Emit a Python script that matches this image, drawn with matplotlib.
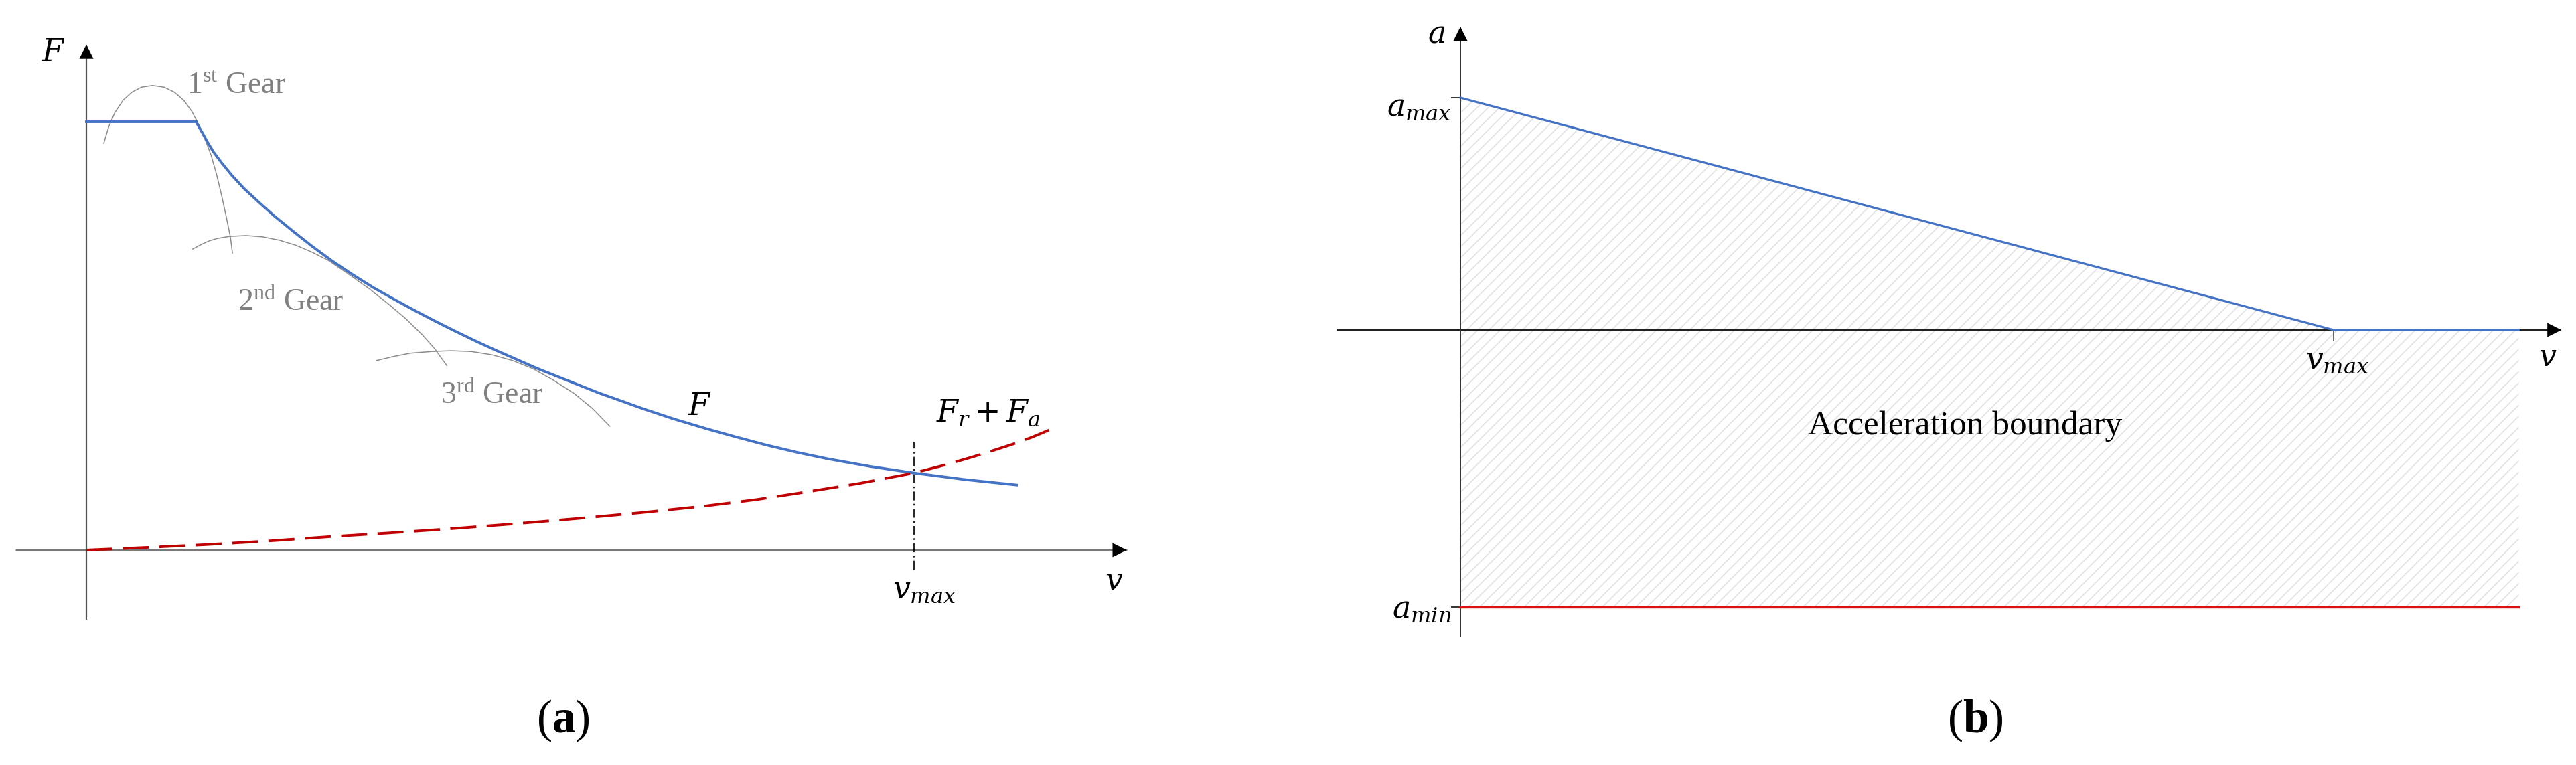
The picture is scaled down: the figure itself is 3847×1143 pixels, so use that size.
import matplotlib.pyplot as plt
import numpy as np

plt.rcParams['font.family'] = ['Liberation Serif', 'DejaVu Serif']
plt.rcParams['mathtext.fontset'] = 'custom'
plt.rcParams['mathtext.rm'] = 'DejaVu Serif'
plt.rcParams['mathtext.sf'] = 'Liberation Serif'
plt.rcParams['mathtext.it'] = 'DejaVu Serif:italic'
plt.rcParams['mathtext.bf'] = 'Liberation Serif:bold'
plt.rcParams['hatch.linewidth'] = 1.3
plt.rcParams['hatch.color'] = '#e3e3e3'

# ---- (a) traction force diagram, v scaled so v_max = 1, F scaled so F_max = 1
v_flat = [0.0, 0.1324]
F_flat = [1.0, 1.0]

v_trac = [0.1324, 0.1384, 0.1458, 0.1533, 0.1632, 0.1756, 0.1905, 0.2078,
          0.2276, 0.2499, 0.2722, 0.2969, 0.3217, 0.3465, 0.3713, 0.3960,
          0.4208, 0.4456, 0.4703, 0.4951, 0.5199, 0.5447, 0.5694, 0.5942,
          0.6190, 0.6438, 0.6725, 0.710, 0.748, 0.785, 0.822, 0.859, 0.896,
          0.948, 1.0, 1.062, 1.124]
F_trac = [1.0, 0.980, 0.954, 0.930, 0.9045, 0.875, 0.844, 0.813,
          0.779, 0.744, 0.710, 0.675, 0.643, 0.613, 0.586, 0.560,
          0.535, 0.511, 0.488, 0.466, 0.445, 0.424, 0.405, 0.386,
          0.367, 0.350, 0.330, 0.306, 0.284, 0.264, 0.245, 0.228, 0.213,
          0.195, 0.180, 0.1645, 0.152]

v_res = [0.0, 0.072, 0.143, 0.218, 0.292, 0.366, 0.441, 0.515, 0.589, 0.668,
         0.748, 0.810, 0.871, 0.935, 1.0, 1.036, 1.070, 1.095, 1.119, 1.142, 1.163]
F_res = [0.0, 0.006, 0.0125, 0.021, 0.031, 0.040, 0.050, 0.061, 0.073, 0.087,
         0.103, 0.118, 0.136, 0.156, 0.180, 0.198, 0.217, 0.232, 0.247, 0.263, 0.280]

gear1_v = [0.0210, 0.0269, 0.0344, 0.0443, 0.0552, 0.0666, 0.0799, 0.0938,
           0.1062, 0.1176, 0.1275, 0.1359, 0.1434, 0.1508, 0.1572, 0.1632,
           0.1691, 0.1741, 0.1765]
gear1_F = [0.9495, 0.9878, 1.0212, 1.050, 1.069, 1.0806, 1.0844, 1.0806,
           1.069, 1.050, 1.024, 0.9925, 0.959, 0.921, 0.8777, 0.8298,
           0.7772, 0.7294, 0.6931]

gear2_v = [0.1285, 0.1384, 0.1483, 0.1582, 0.1731, 0.1929, 0.2127, 0.2325,
           0.2524, 0.2722, 0.2920, 0.3168, 0.3415, 0.3663, 0.3861, 0.4059,
           0.4208, 0.4357]
gear2_F = [0.7027, 0.7131, 0.7217, 0.7275, 0.7323, 0.7342, 0.7313, 0.7237,
           0.7122, 0.6959, 0.6767, 0.6441, 0.6105, 0.5723, 0.5398, 0.5025,
           0.4701, 0.4300]

gear3_v = [0.3505, 0.3713, 0.3911, 0.4159, 0.4406, 0.4654, 0.4901, 0.5150,
           0.5397, 0.5645, 0.5892, 0.6115, 0.6324]
gear3_F = [0.4424, 0.4519, 0.4595, 0.4634, 0.4653, 0.4634, 0.4558, 0.4424,
           0.4233, 0.3964, 0.3658, 0.3305, 0.2892]

v_max = 1.0

# ---- (b) acceleration boundary, v scaled so v_max = 1, a scaled so a_max = 1
v_b = [0.0, 1.0, 1.212]
a_upper = [1.0, 0.0, 0.0]
a_max = 1.0
a_min = -1.193

blue = '#4472c4'
red_dash = '#c00000'
red = '#e01010'
gear_col = '#8c8c8c'
gear_txt = '#808080'
MATH = 33

fig = plt.figure(figsize=(38.48, 11.43), dpi=100)


def axis_arrow(ax, start, end, color, lw, head_color='black'):
    ax.plot([start[0], end[0]], [start[1], end[1]], color=color, lw=lw,
            solid_capstyle='butt', zorder=2)
    ax.annotate('', xy=end, xytext=start,
                arrowprops=dict(arrowstyle='-|>', color=head_color, lw=0.01,
                                mutation_scale=38, shrinkA=0, shrinkB=0),
                zorder=3)


# panel (a)
axA = fig.add_axes([0, 0, 0.5, 1])
axA.set_xlim(-0.10437, 1.4523)
axA.set_ylim(-0.5016, 1.284)
axA.axis('off')

axis_arrow(axA, (-0.0858, 0), (1.257, 0), '#7a7a7a', 2.2)
axis_arrow(axA, (0, -0.1625), (0, 1.18), '#555555', 1.6)

for gv, gF in [(gear1_v, gear1_F), (gear2_v, gear2_F), (gear3_v, gear3_F)]:
    axA.plot(gv, gF, color=gear_col, lw=1.1, zorder=3)

axA.plot(v_flat, F_flat, color=blue, lw=2.8, zorder=4)
axA.plot(v_trac, F_trac, color=blue, lw=2.8, zorder=4)
axA.plot(v_res, F_res, color=red_dash, lw=2.8, dashes=(10, 4), zorder=5)
axA.plot([v_max, v_max], [-0.045, 0.252], color='black', lw=1.2,
         linestyle=(0, (8, 3, 1.5, 3)), zorder=3)

axA.text(-0.04, 1.159, r'$F$', fontsize=MATH, ha='center', va='center')
axA.text(0.121, 1.083, r'1$^{\mathsf{st}}$ Gear', fontsize=33, color=gear_txt,
         ha='left', va='center')
axA.text(0.183, 0.578, r'2$^{\mathsf{nd}}$ Gear', fontsize=33, color=gear_txt,
         ha='left', va='center')
axA.text(0.428, 0.361, r'3$^{\mathsf{rd}}$ Gear', fontsize=33, color=gear_txt,
         ha='left', va='center')
axA.text(0.741, 0.333, r'$F$', fontsize=MATH, ha='center', va='center')
axA.text(1.09, 0.319, r'$F_r + F_a$', fontsize=MATH, ha='center', va='center')
axA.text(1.013, -0.094, r'$v_{max}$', fontsize=MATH, ha='center', va='center')
axA.text(1.242, -0.075, r'$v$', fontsize=MATH, ha='center', va='center')

# panel (b)
axB = fig.add_axes([0.5, 0, 0.5, 1])
axB.set_xlim(-0.1971, 1.2784)
axB.set_ylim(-1.873, 1.4207)
axB.axis('off')

axB.fill_between(v_b, a_upper, a_min, facecolor='none', edgecolor='#e3e3e3',
                 hatch='//', linewidth=0, zorder=1)

axis_arrow(axB, (-0.142, 0), (1.261, 0), '#222222', 1.6)
axis_arrow(axB, (0, -1.323), (0, 1.305), '#333333', 1.4)

axB.plot(v_b, a_upper, color=blue, lw=2.3, zorder=4)
axB.plot([0, v_b[-1]], [a_min, a_min], color=red, lw=2.4, zorder=4)
axB.plot([-0.01, 0], [a_max, a_max], color='#333333', lw=1.4, zorder=3)
axB.plot([-0.01, 0], [a_min, a_min], color='#333333', lw=1.4, zorder=3)
axB.plot([v_max, v_max], [0, -0.045], color='#666666', lw=1.4, zorder=3)

axB.text(-0.0276, 1.271, r'$a$', fontsize=MATH, ha='center', va='center')
axB.text(-0.010, 0.955, r'$a_{max}$', fontsize=MATH, ha='right', va='center')
axB.text(-0.010, -1.21, r'$a_{min}$', fontsize=MATH, ha='right', va='center')
axB.text(1.0046, -0.133, r'$v_{max}$', fontsize=MATH, ha='center', va='center')
axB.text(1.245, -0.124, r'$v$', fontsize=MATH, ha='center', va='center')
axB.text(0.578, -0.415, 'Acceleration boundary', fontsize=37, ha='center',
         va='center')

fig.text(841 / 3848, 1 - 1077 / 1143, r'($\mathbf{a}$)', fontsize=50,
         ha='center', va='center')
fig.text(2950 / 3848, 1 - 1077 / 1143, r'($\mathbf{b}$)', fontsize=50,
         ha='center', va='center')

fig.savefig('out.png', dpi=100, facecolor='white')
